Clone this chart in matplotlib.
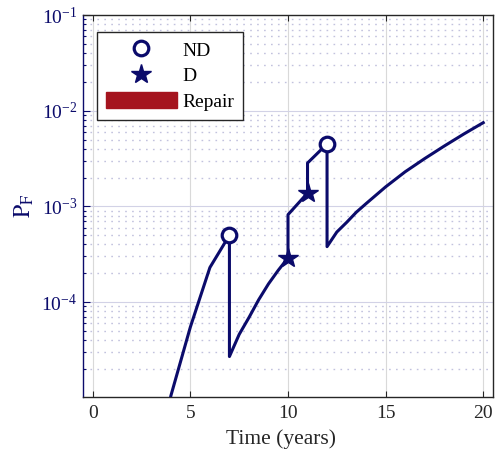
import matplotlib
matplotlib.use("Agg")
import matplotlib.pyplot as plt
from matplotlib.patches import Patch
from matplotlib.lines import Line2D
from matplotlib.ticker import LogLocator, NullFormatter
import numpy as np

plt.rcParams['font.family'] = ['Liberation Serif', 'DejaVu Serif']
plt.rcParams['mathtext.fontset'] = 'stix'

# probability of failure over time (vertical jumps = inspection / repair)
t = [3, 4, 5, 6, 7, 7, 7.5, 8, 8.5, 9, 9.5, 10, 10, 11, 11, 12, 12,
     12.5, 13, 13.5, 14, 15, 16, 17, 18, 19, 20]
pf = [8e-7, 1.05e-5, 5.5e-5, 2.3e-4, 5.0e-4, 2.7e-5, 4.6e-5, 6.9e-5, 1.06e-4, 1.55e-4,
      2.15e-4, 2.9e-4, 8.2e-4, 1.38e-3, 2.84e-3, 4.5e-3, 3.8e-4,
      5.4e-4, 6.8e-4, 8.7e-4, 1.07e-3, 1.6e-3, 2.3e-3, 3.16e-3, 4.27e-3, 5.7e-3, 7.5e-3]

# inspections: no detection (ND) and detection (D)
nd_t = [7, 12]
nd_pf = [5.0e-4, 4.5e-3]
d_t = [10, 11]
d_pf = [2.9e-4, 1.38e-3]

navy = '#0b0b6b'
red = '#a5141e'
dark = '#262626'

fig = plt.figure(figsize=(4.95, 4.57), dpi=100)
ax = fig.add_axes([83 / 495, 60 / 457, 410 / 495, 382 / 457])

ax.semilogy(t, pf, color=navy, lw=2.2, zorder=3)
ax.plot(nd_t, nd_pf, 'o', ms=10.5, mfc='white', mec=navy, mew=2.3, zorder=4)
ax.plot(d_t, d_pf, '*', ms=15, color=navy, zorder=4)

ax.set_xlim(-0.5, 20.5)
ax.set_ylim(1.02e-5, 1e-1)
ax.set_xticks([0, 5, 10, 15, 20])
ax.set_yticks([1e-4, 1e-3, 1e-2, 1e-1])
ax.yaxis.set_minor_locator(LogLocator(base=10, subs=np.arange(2, 10)))
ax.yaxis.set_minor_formatter(NullFormatter())

ax.grid(True, which='major', axis='x', color='#d9d9d9', lw=0.8)
ax.grid(True, which='major', axis='y', color='#d2d2e6', lw=0.8)
ax.grid(True, which='minor', axis='y', color='#c2c2de', lw=1.0, ls=(0, (1.2, 3.8)))
ax.set_axisbelow(True)

ax.tick_params(axis='x', which='both', direction='in', top=True, length=4,
               width=0.8, labelsize=14, colors=dark, pad=6)
ax.tick_params(axis='y', which='major', direction='in', length=5, width=0.8,
               labelsize=14, colors=navy, pad=4)
ax.tick_params(axis='y', which='minor', direction='in', length=2.5, width=0.8, colors=navy)

for side in ['top', 'right', 'bottom']:
    ax.spines[side].set_color(dark)
    ax.spines[side].set_linewidth(1.0)
ax.spines['left'].set_color(navy)
ax.spines['left'].set_linewidth(1.0)

ax.set_xlabel('Time (years)', fontsize=15.5, color=dark, labelpad=2)
ax.xaxis.set_label_coords(0.484, -0.085)
ax.set_ylabel(r'$\mathrm{P_F}$', fontsize=17, color=navy, labelpad=4)

handles = [
    Line2D([], [], ls='none', marker='o', ms=10.5, mfc='white', mec=navy, mew=2.3),
    Line2D([], [], ls='none', marker='*', ms=15, color=navy),
    Patch(facecolor=red, edgecolor=red),
]
leg = ax.legend(handles, ['ND', 'D', 'Repair'], loc='upper left',
                bbox_to_anchor=(0.034, 0.955), borderaxespad=0, fontsize=14,
                handlelength=3.65, handleheight=0.9, handletextpad=0.3,
                labelspacing=0.35, borderpad=0.45, fancybox=False, framealpha=1)
leg.get_frame().set_edgecolor(dark)
leg.get_frame().set_linewidth(1.0)

fig.savefig('out.png', dpi=100)
